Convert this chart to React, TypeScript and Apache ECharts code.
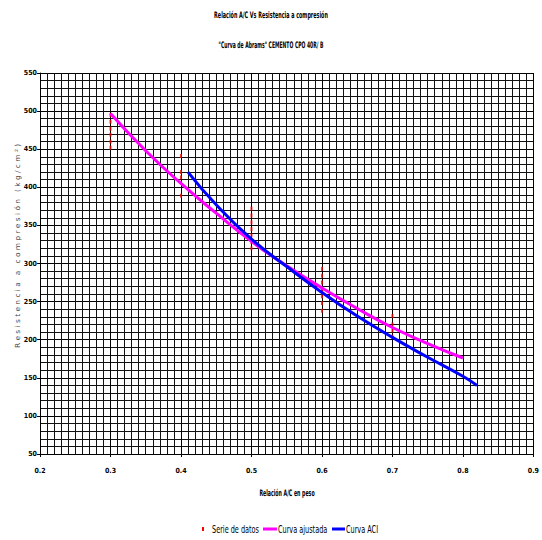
import { useEffect, useRef } from "react";
import * as echarts from "echarts";

// ---- Data ----
const serieDatos: [number, number][] = [
  [0.3, 495], [0.3, 486], [0.3, 477], [0.3, 469], [0.3, 460], [0.3, 452],
  [0.4, 441], [0.4, 420], [0.4, 413], [0.4, 406], [0.4, 389],
  [0.5, 372], [0.5, 363], [0.5, 354], [0.5, 345], [0.5, 337], [0.5, 328], [0.5, 320],
  [0.6, 293], [0.6, 284], [0.6, 275], [0.6, 266], [0.6, 257], [0.6, 248], [0.6, 238],
  [0.7, 231], [0.7, 220], [0.7, 212], [0.7, 204],
];

const ajustadaX = [0.3, 0.35, 0.4, 0.45, 0.5, 0.55, 0.6, 0.65, 0.7, 0.75, 0.8];
const ajustadaY = [497, 448, 405, 366, 329, 297, 268, 241, 216, 195, 176];

const aciX = [0.41, 0.45, 0.5, 0.55, 0.6, 0.65, 0.7, 0.75, 0.8, 0.82];
const aciY = [420, 377, 332, 296, 262, 231, 203, 177, 152, 140];

const titulo = "Relación A/C Vs Resistencia a compresión";
const subtitulo = "\"Curva de Abrams\" CEMENTO CPO 40R/ B";
const nombreX = "Relación A/C en peso";
const nombreY = "R e s i s t e n c i a   a   c o m p r e s i ó n   ( k g / c m ² )";
const leyenda = ["Serie de datos", "Curva ajustada", "Curva ACI"];

const FONT = '"Liberation Sans Narrow","Arial Narrow","DejaVu Sans Condensed",Arial,sans-serif';

export default function App() {
  const ref = useRef<HTMLDivElement>(null);
  useEffect(() => {
    const chart = echarts.init(ref.current!, null, { renderer: "svg" });
    chart.setOption({
      animation: false,
      backgroundColor: "#fff",
      grid: { left: 40, right: 6, top: 73, bottom: 86, containLabel: false },
      xAxis: {
        type: "value",
        min: 0.2,
        max: 0.9,
        interval: 0.1,
        axisLine: { show: true, lineStyle: { color: "#000", width: 1 } },
        axisTick: { show: true, length: 3, lineStyle: { color: "#000" } },
        axisLabel: {
          fontSize: 7,
          fontWeight: "bold",
          fontFamily: FONT,
          color: "#000",
          margin: 13,
          formatter: (v: number) => v.toFixed(1),
        },
        splitLine: { show: true, lineStyle: { color: "#000", width: 1 } },
        minorTick: { show: false, splitNumber: 10 },
        minorSplitLine: { show: true, lineStyle: { color: "#111", width: 1 } },
      },
      yAxis: {
        type: "value",
        min: 50,
        max: 550,
        interval: 50,
        axisLine: { show: true, lineStyle: { color: "#000", width: 1 } },
        axisTick: { show: true, length: 3, lineStyle: { color: "#000" } },
        axisLabel: {
          fontSize: 7,
          fontWeight: "bold",
          fontFamily: FONT,
          color: "#000",
          margin: 3,
        },
        splitLine: { show: true, lineStyle: { color: "#000", width: 1 } },
        minorTick: { show: false, splitNumber: 5 },
        minorSplitLine: { show: true, lineStyle: { color: "#111", width: 1 } },
      },
      series: [
        {
          name: leyenda[0],
          type: "scatter",
          data: serieDatos,
          symbol: "rect",
          symbolSize: [2, 4],
          itemStyle: { color: "#FF0000" },
          z: 3,
        },
        {
          name: leyenda[1],
          type: "line",
          data: ajustadaX.map((x, i) => [x, ajustadaY[i]]),
          smooth: true,
          symbol: "none",
          lineStyle: { color: "#FF00FF", width: 3 },
          z: 4,
        },
        {
          name: leyenda[2],
          type: "line",
          data: aciX.map((x, i) => [x, aciY[i]]),
          smooth: true,
          symbol: "none",
          lineStyle: { color: "#0000FF", width: 3 },
          z: 5,
        },
      ],
      graphic: [
        {
          type: "text", x: 271, y: 15, scaleX: 0.6,
          style: { text: titulo, fontSize: 9, fontWeight: "bold", fontFamily: FONT, fill: "#000", align: "center", verticalAlign: "middle" },
        },
        {
          type: "text", x: 271, y: 45, scaleX: 0.56,
          style: { text: subtitulo, fontSize: 9, fontWeight: "bold", fontFamily: FONT, fill: "#000", align: "center", verticalAlign: "middle" },
        },
        {
          type: "text", x: 287, y: 493, scaleX: 0.58,
          style: { text: nombreX, fontSize: 9, fontWeight: "bold", fontFamily: FONT, fill: "#000", align: "center", verticalAlign: "middle" },
        },
        {
          type: "text", x: 18, y: 246, rotation: Math.PI / 2, scaleX: 1.18,
          style: { text: nombreY, fontSize: 7, fontFamily: FONT, fill: "#444", align: "center", verticalAlign: "middle" },
        },
        // legend
        { type: "rect", shape: { x: 202, y: 527, width: 2, height: 4 }, style: { fill: "#FF0000" } },
        {
          type: "text", x: 212, y: 529, scaleX: 0.66,
          style: { text: leyenda[0], fontSize: 11, fontFamily: FONT, fill: "#000", align: "left", verticalAlign: "middle" },
        },
        { type: "line", shape: { x1: 263, y1: 529, x2: 277, y2: 529 }, style: { stroke: "#FF00FF", lineWidth: 3 } },
        {
          type: "text", x: 278, y: 529, scaleX: 0.66,
          style: { text: leyenda[1], fontSize: 11, fontFamily: FONT, fill: "#000", align: "left", verticalAlign: "middle" },
        },
        { type: "line", shape: { x1: 332, y1: 529, x2: 345, y2: 529 }, style: { stroke: "#0000FF", lineWidth: 3 } },
        {
          type: "text", x: 346, y: 529, scaleX: 0.66,
          style: { text: leyenda[2], fontSize: 11, fontFamily: FONT, fill: "#000", align: "left", verticalAlign: "middle" },
        },
      ],
    });
    return () => chart.dispose();
  }, []);
  return (
    <div
      ref={ref}
      style={{ width: 542, height: 540, position: "absolute", left: 0, top: 0 }}
    />
  );
}
